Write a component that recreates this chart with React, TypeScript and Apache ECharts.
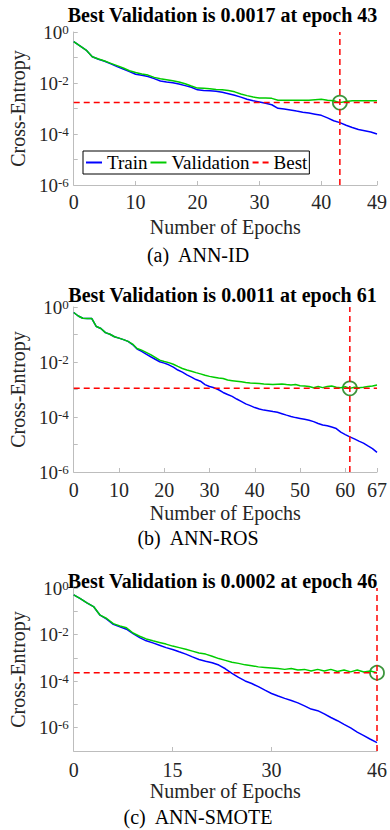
import React, { useEffect, useRef } from "react";
import * as echarts from "echarts";

const FONT = "'Liberation Serif', 'Times New Roman', serif";

// ---------- data ----------
const panelCaptions = ["(a)  ANN-ID", "(b)  ANN-ROS", "(c)  ANN-SMOTE"];
const bestEpochs = [43, 61, 46];
const bestValues = [0.0017, 0.0011, 0.00023];
const bestLabels = ["0.0017", "0.0011", "0.0002"];
const epochMax = [49, 67, 46];
const xTicksA = [0, 10, 20, 30, 40, 49];
const xTicksB = [0, 10, 20, 30, 40, 50, 60, 67];
const xTicksC = [0, 15, 30, 46];
const yMinValues = [1e-6, 1e-6, 1e-7];
const yTickExponents = [0, -2, -4, -6];
const legendNames = ["Train", "Validation", "Best"];

const trainA = [
  0.417, 0.288, 0.195, 0.107, 0.085, 0.071, 0.056, 0.044, 0.035, 0.028,
  0.022, 0.02, 0.018, 0.0148, 0.012, 0.011, 0.0102, 0.0091, 0.0079, 0.0068,
  0.0054, 0.0051, 0.005, 0.0047, 0.0043, 0.0038, 0.0033, 0.0028, 0.0023, 0.002,
  0.0018, 0.0016, 0.0014, 0.00102, 0.00095, 0.00087, 0.00079, 0.00072, 0.00066, 0.0006,
  0.00054, 0.00043, 0.00033, 0.00028, 0.00022, 0.00018, 0.00015, 0.000135, 0.00012, 0.0001,
];
const validationA = [
  0.417, 0.288, 0.195, 0.107, 0.0871, 0.0724, 0.0589, 0.0479, 0.0389, 0.0302,
  0.0257, 0.0224, 0.0204, 0.0166, 0.0148, 0.0135, 0.0123, 0.011, 0.0093, 0.0076,
  0.0063, 0.0062, 0.006, 0.0056, 0.0054, 0.0051, 0.0045, 0.0037, 0.0032, 0.0028,
  0.0026, 0.0026, 0.0025, 0.0021, 0.0021, 0.0021, 0.0021, 0.0021, 0.0021, 0.0022,
  0.0023, 0.0021, 0.002, 0.0017, 0.0019, 0.002, 0.002, 0.002, 0.002, 0.002,
];
const trainB = [
  0.63, 0.47, 0.39, 0.38, 0.38, 0.195, 0.166, 0.117, 0.102, 0.083,
  0.074, 0.065, 0.056, 0.043, 0.0295, 0.0245, 0.0195, 0.0155, 0.0126, 0.0102,
  0.0091, 0.0079, 0.0065, 0.0051, 0.0043, 0.0034, 0.0028, 0.0023, 0.002, 0.00151,
  0.00129, 0.00115, 0.00098, 0.00078, 0.00066, 0.00056, 0.00045, 0.00037, 0.0003, 0.00026,
  0.00022, 0.000195, 0.000178, 0.00017, 0.000158, 0.000148, 0.000132, 0.000117, 0.000105, 9.5e-5,
  8.9e-5, 8.3e-5, 7.6e-5, 6.8e-5, 5.8e-5, 5.1e-5, 4.8e-5, 4.3e-5, 3.8e-5, 2.8e-5,
  2.3e-5, 1.9e-5, 1.6e-5, 1.32e-5, 1.12e-5, 8.9e-6, 7.1e-6, 5.2e-6,
];
const validationB = [
  0.63, 0.47, 0.39, 0.38, 0.38, 0.195, 0.166, 0.117, 0.102, 0.083,
  0.074, 0.065, 0.056, 0.045, 0.031, 0.027, 0.0224, 0.0186, 0.0148, 0.0117,
  0.0105, 0.0095, 0.0083, 0.0069, 0.0058, 0.0051, 0.0046, 0.0041, 0.0037, 0.0033,
  0.003, 0.0028, 0.0026, 0.0025, 0.0022, 0.0021, 0.002, 0.0019, 0.0018, 0.00174,
  0.0017, 0.00166, 0.00158, 0.00155, 0.00151, 0.00155, 0.00158, 0.00151, 0.00145, 0.00151,
  0.00138, 0.00135, 0.00129, 0.00115, 0.00129, 0.00117, 0.00129, 0.00135, 0.0012, 0.00115,
  0.00126, 0.0011, 0.0012, 0.00115, 0.0012, 0.00129, 0.00135, 0.00145,
];
const trainC = [
  0.51, 0.35, 0.23, 0.16, 0.068, 0.046, 0.0275, 0.0214, 0.017, 0.011,
  0.0074, 0.0054, 0.0044, 0.0035, 0.00275, 0.0023, 0.00182, 0.00145, 0.0011, 0.00085,
  0.00072, 0.00062, 0.00049, 0.00034, 0.000214, 0.000145, 0.000102, 7.9e-5, 5.8e-5, 4.1e-5,
  2.95e-5, 2.3e-5, 1.82e-5, 1.48e-5, 1.17e-5, 8.7e-6, 6.3e-6, 5.4e-6, 3.9e-6, 2.75e-6,
  2.0e-6, 1.38e-6, 9.8e-7, 6.5e-7, 4.6e-7, 3.2e-7, 2.3e-7,
];
const validationC = [
  0.51, 0.35, 0.23, 0.16, 0.068, 0.049, 0.0295, 0.0234, 0.0195, 0.0117,
  0.0085, 0.0065, 0.0054, 0.0046, 0.0039, 0.0032, 0.00275, 0.00234, 0.00195, 0.00162,
  0.00145, 0.00117, 0.00093, 0.00078, 0.00065, 0.00058, 0.0005, 0.00046, 0.00041, 0.00039,
  0.00037, 0.00035, 0.00032, 0.00035, 0.0003, 0.00032, 0.000275, 0.00032, 0.00027, 0.00032,
  0.00026, 0.0003, 0.00025, 0.0003, 0.000245, 0.000275, 0.00023,
];

const trainSets = [trainA, trainB, trainC];
const validationSets = [validationA, validationB, validationC];
const xTickSets = [xTicksA, xTicksB, xTicksC];

// ---------- layout / style ----------
const GRIDS = [
  { top: 32, height: 153, labelMargin: 7, nameGap: 32, titleY: 15, captionY: 255 },
  { top: 307, height: 165, labelMargin: 8, nameGap: 31, titleY: 295, captionY: 538 },
  { top: 588, height: 163, labelMargin: 9, nameGap: 27, titleY: 581, captionY: 817 },
];
const GRID_LEFT = 67;
const GRID_WIDTH = 311;
const AXIS_COLOR = "#bdbdbd";
const LABEL_COLOR = "#262626";
const BLUE = "#0000ff";
const GREEN = "#00cc00";
const RED = "#ff0000";
const CIRCLE = "#0b7a0b";

function pairs(arr: number[]) {
  return arr.map((v, i) => [i, v]);
}

function buildOption() {
  const grid: any[] = [];
  const xAxis: any[] = [];
  const yAxis: any[] = [];
  const series: any[] = [];
  const graphic: any[] = [];

  GRIDS.forEach((g, i) => {
    grid.push({ left: GRID_LEFT, top: g.top, width: GRID_WIDTH, height: g.height, containLabel: false });
    xAxis.push({
      type: "value",
      gridIndex: i,
      min: 0,
      max: epochMax[i],
      axisLine: { show: true, lineStyle: { color: AXIS_COLOR, width: 1 } },
      axisTick: { show: true, inside: true, length: 4, customValues: xTickSets[i], lineStyle: { color: AXIS_COLOR } },
      splitLine: { show: false },
      axisLabel: {
        customValues: xTickSets[i],
        margin: g.labelMargin,
        fontFamily: FONT,
        fontSize: 20,
        color: LABEL_COLOR,
      },
      name: "Number of Epochs",
      nameLocation: "middle",
      nameGap: g.nameGap,
      nameTextStyle: { fontFamily: FONT, fontSize: 20, color: LABEL_COLOR },
    });
    yAxis.push({
      type: "log",
      logBase: 10,
      gridIndex: i,
      min: yMinValues[i],
      max: 1,
      axisLine: { show: true, lineStyle: { color: AXIS_COLOR, width: 1 } },
      axisTick: { show: true, inside: true, length: 4, lineStyle: { color: AXIS_COLOR } },
      splitLine: { show: false },
      axisLabel: {
        margin: 5,
        formatter: (v: number) => {
          const e = Math.round(Math.log10(v));
          if (yTickExponents.indexOf(e) < 0) return "";
          return `{b|10}{s|${e}}`;
        },
        rich: {
          b: { fontFamily: FONT, fontSize: 19, color: LABEL_COLOR, lineHeight: 19, verticalAlign: "bottom" },
          s: { fontFamily: FONT, fontSize: 13, color: LABEL_COLOR, lineHeight: 13, verticalAlign: "top" },
        },
      },
      name: "Cross-Entropy",
      nameLocation: "middle",
      nameGap: 44,
      nameTextStyle: { fontFamily: FONT, fontSize: 20, color: LABEL_COLOR },
    });

    series.push({
      type: "line",
      name: "Train",
      xAxisIndex: i,
      yAxisIndex: i,
      data: pairs(trainSets[i]),
      symbol: "none",
      lineStyle: { color: BLUE, width: 1.5 },
      itemStyle: { color: BLUE },
    });
    series.push({
      type: "line",
      name: "Validation",
      xAxisIndex: i,
      yAxisIndex: i,
      data: pairs(validationSets[i]),
      symbol: "none",
      lineStyle: { color: GREEN, width: 1.5 },
      itemStyle: { color: GREEN },
    });
    series.push({
      type: "line",
      name: "Best",
      xAxisIndex: i,
      yAxisIndex: i,
      data: [
        [bestEpochs[i], yMinValues[i]],
        [bestEpochs[i], 1],
      ],
      symbol: "none",
      lineStyle: { color: RED, width: 1.5, type: [6, 4] },
      itemStyle: { color: RED },
    });
    series.push({
      type: "line",
      name: "Best",
      xAxisIndex: i,
      yAxisIndex: i,
      data: [
        [0, bestValues[i]],
        [epochMax[i], bestValues[i]],
      ],
      symbol: "none",
      lineStyle: { color: RED, width: 1.5, type: [6, 4] },
      itemStyle: { color: RED },
    });
    series.push({
      type: "scatter",
      name: "bestPoint" + i,
      xAxisIndex: i,
      yAxisIndex: i,
      data: [[bestEpochs[i], bestValues[i]]],
      symbol: "circle",
      symbolSize: 14,
      clip: false,
      itemStyle: { color: "rgba(0,0,0,0)", borderColor: CIRCLE, borderWidth: 1.8 },
    });

    graphic.push({
      type: "text",
      x: GRID_LEFT + GRID_WIDTH / 2,
      y: g.titleY,
      style: {
        text: `Best Validation is ${bestLabels[i]} at epoch ${bestEpochs[i]}`,
        fontFamily: FONT,
        fontSize: 20,
        fontWeight: "bold",
        fill: "#000",
        align: "center",
        verticalAlign: "middle",
      },
    });
    graphic.push({
      type: "text",
      x: 198,
      y: g.captionY,
      style: {
        text: panelCaptions[i],
        fontFamily: FONT,
        fontSize: 20,
        fill: "#000",
        align: "center",
        verticalAlign: "middle",
      },
    });
  });

  return {
    animation: false,
    backgroundColor: "#ffffff",
    grid,
    xAxis,
    yAxis,
    series,
    graphic,
    legend: {
      data: legendNames,
      left: 83,
      top: 151,
      orient: "horizontal",
      itemWidth: 16,
      itemHeight: 10,
      itemGap: 2,
      padding: [2, 2],
      borderColor: "#000",
      borderWidth: 1,
      backgroundColor: "#fff",
      selectedMode: false,
      itemStyle: { opacity: 0 },
      textStyle: { fontFamily: FONT, fontSize: 19, color: "#000" },
    },
  };
}

export default function App() {
  const ref = useRef<HTMLDivElement>(null);
  useEffect(() => {
    if (!ref.current) return;
    const chart = echarts.init(ref.current, undefined, { renderer: "svg" });
    chart.setOption(buildOption() as any);
    return () => chart.dispose();
  }, []);
  return (
    <div
      ref={ref}
      style={{ position: "absolute", left: 0, top: 0, width: 390, height: 830, background: "#fff" }}
    />
  );
}
